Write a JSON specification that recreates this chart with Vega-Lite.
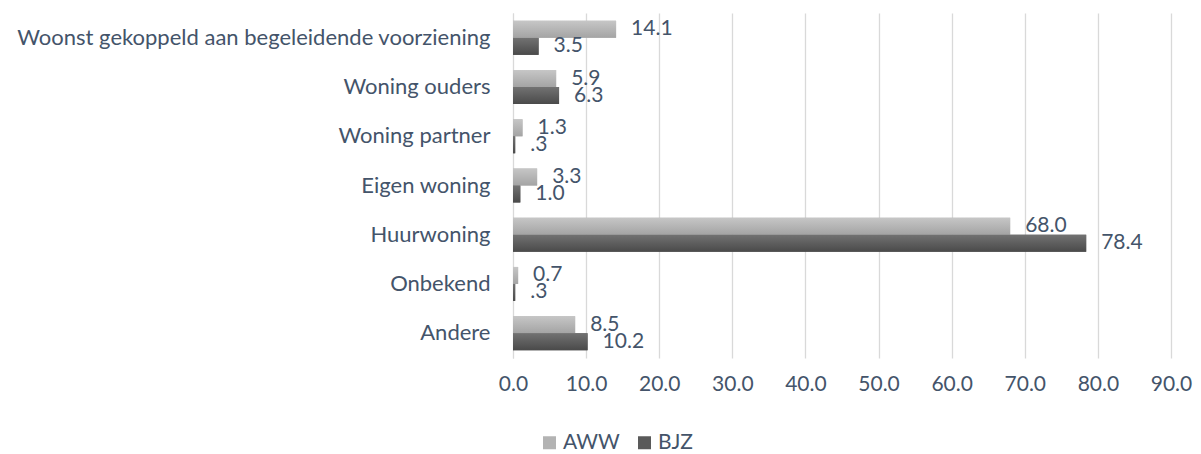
{
  "$schema": "https://vega.github.io/schema/vega-lite/v6.json",
  "width": 658,
  "height": 345,
  "autosize": {"type": "none"},
  "padding": {"left": 513, "top": 13, "right": 30, "bottom": 96},
  "background": "white",
  "config": {
    "view": {"stroke": null},
    "font": "Lato",
    "text": {"font": "Lato"}
  },
  "data": {
    "values": [
      {"cat": "Woonst gekoppeld aan begeleidende voorziening", "series": "AWW", "value": 14.1, "label": "14.1"},
      {"cat": "Woonst gekoppeld aan begeleidende voorziening", "series": "BJZ", "value": 3.5, "label": "3.5"},
      {"cat": "Woning ouders", "series": "AWW", "value": 5.9, "label": "5.9"},
      {"cat": "Woning ouders", "series": "BJZ", "value": 6.3, "label": "6.3"},
      {"cat": "Woning partner", "series": "AWW", "value": 1.3, "label": "1.3"},
      {"cat": "Woning partner", "series": "BJZ", "value": 0.3, "label": ".3"},
      {"cat": "Eigen woning", "series": "AWW", "value": 3.3, "label": "3.3"},
      {"cat": "Eigen woning", "series": "BJZ", "value": 1.0, "label": "1.0"},
      {"cat": "Huurwoning", "series": "AWW", "value": 68.0, "label": "68.0"},
      {"cat": "Huurwoning", "series": "BJZ", "value": 78.4, "label": "78.4"},
      {"cat": "Onbekend", "series": "AWW", "value": 0.7, "label": "0.7"},
      {"cat": "Onbekend", "series": "BJZ", "value": 0.3, "label": ".3"},
      {"cat": "Andere", "series": "AWW", "value": 8.5, "label": "8.5"},
      {"cat": "Andere", "series": "BJZ", "value": 10.2, "label": "10.2"}
    ]
  },
  "encoding": {
    "y": {
      "field": "cat", "type": "nominal", "sort": null,
      "scale": {"paddingInner": 0.31, "paddingOuter": 0.16},
      "axis": {
        "title": null, "ticks": false, "labelPadding": 23, "labelFontSize": 22,
        "labelColor": "#44546a", "labelFont": "Lato", "labelLimit": 600,
        "domainColor": "#d9d9d9", "domainWidth": 1, "grid": false
      }
    },
    "yOffset": {"field": "series", "type": "nominal", "sort": ["AWW", "BJZ"]},
    "x": {
      "field": "value", "type": "quantitative",
      "scale": {"domain": [0, 90], "nice": false},
      "axis": {
        "title": null, "values": [0, 10, 20, 30, 40, 50, 60, 70, 80, 90], "format": ".1f",
        "ticks": false, "domain": false, "grid": true, "gridColor": "#d9d9d9", "gridWidth": 1.3,
        "labelFlush": false, "labelPadding": 15, "labelFontSize": 21, "labelColor": "#44546a", "labelFont": "Lato"
      }
    }
  },
  "layer": [
    {
      "mark": {"type": "bar"},
      "encoding": {
        "color": {
          "field": "series", "type": "nominal",
          "scale": {"domain": ["AWW", "BJZ"], "range": ["#b3b3b3", "#5a5a5a"]},
          "legend": {
            "title": null, "orient": "none", "direction": "horizontal",
            "legendX": 26, "legendY": 419, "padding": 0, "symbolType": "square", "symbolSize": 169,
            "symbolStrokeWidth": 0, "labelFontSize": 21, "labelColor": "#44546a", "labelFont": "Lato",
            "columnPadding": 14, "labelOffset": 3
          }
        }
      }
    },
    {
      "transform": [{"filter": "datum.series === 'AWW'"}],
      "mark": {
        "type": "bar",
        "fill": {"gradient": "linear", "x1": 0, "y1": 0, "x2": 0, "y2": 1,
          "stops": [{"offset": 0, "color": "#c6c6c6"}, {"offset": 1, "color": "#a4a4a4"}]}
      }
    },
    {
      "transform": [{"filter": "datum.series === 'BJZ'"}],
      "mark": {
        "type": "bar",
        "fill": {"gradient": "linear", "x1": 0, "y1": 0, "x2": 0, "y2": 1,
          "stops": [{"offset": 0, "color": "#727272"}, {"offset": 1, "color": "#4a4a4a"}]}
      }
    },
    {
      "mark": {"type": "text", "align": "left", "baseline": "middle", "dx": 15, "fontSize": 21, "color": "#44546a"},
      "encoding": {"text": {"field": "label"}}
    }
  ]
}
